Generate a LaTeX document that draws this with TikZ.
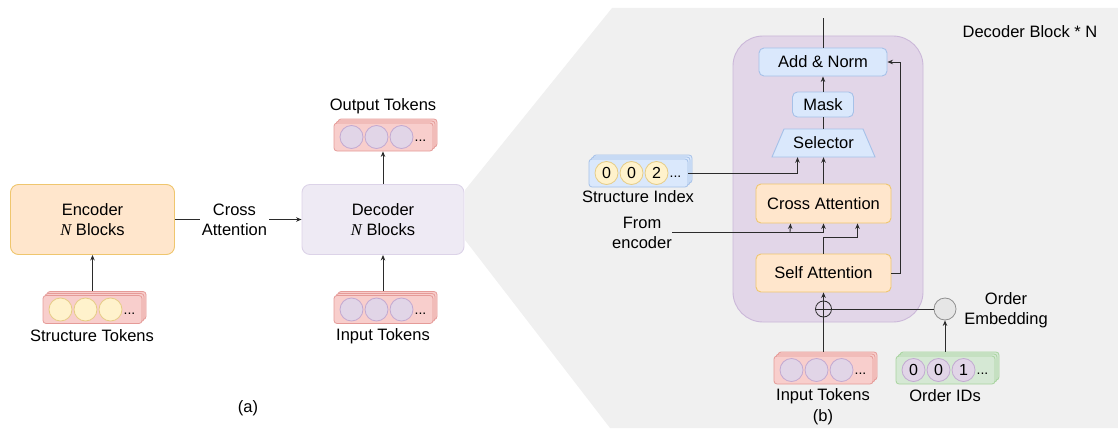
\documentclass[tikz,border=0pt]{standalone}
\usepackage{fontspec}
\setmainfont{Liberation Sans}
\newfontfamily\seriffam{Liberation Serif}
\usetikzlibrary{arrows.meta,calc}
\definecolor{bgG}{HTML}{F0F0F0}
\definecolor{linec}{HTML}{2B2B2B}
\definecolor{pinkF}{HTML}{F8CECC}
\definecolor{pinkD}{HTML}{E59B98}
\definecolor{purF}{HTML}{E1D5E7}
\definecolor{purD}{HTML}{C2A9D1}
\definecolor{yelF}{HTML}{FFF2CC}
\definecolor{yelD}{HTML}{E6CC85}
\definecolor{bluF}{HTML}{DAE8FC}
\definecolor{bluD}{HTML}{A6C1E8}
\definecolor{grnF}{HTML}{D5E8D4}
\definecolor{grnD}{HTML}{A8D49F}
\definecolor{orF}{HTML}{FFE6CC}
\definecolor{orD}{HTML}{EFC66E}
\definecolor{decF}{HTML}{EEEAF4}
\definecolor{decD}{HTML}{DCD3E8}
\definecolor{bigF}{HTML}{E2D6E8}
\definecolor{bigD}{HTML}{CBB8D9}
\definecolor{oeF}{HTML}{E6E6E6}
\definecolor{oeD}{HTML}{8F8F8F}
\newcommand\tokstack[7]{%
  \node[#3] (#1-3) at ($#2+(4,-4)$) {};
  \node[#3] (#1-2) at ($#2+(2,-2)$) {};
  \node[#3] (#1) at #2 {};
  \node[#4] (#1-c1) at ($#2+(-32,0)$) {#5};
  \node[#4] (#1-c2) at ($#2+(-7,0)$) {#6};
  \node[#4] (#1-c3) at ($#2+(18,0)$) {#7};
  \node[font=\fontsize{14}{16}\selectfont, inner sep=0pt] (#1-d) at ($#2+(37,4)$) {...};
}
\begin{document}
\begin{tikzpicture}[x=1pt,y=-1pt,
  font=\fontsize{16.5}{20}\selectfont,
  line/.style={draw=linec, line width=0.9pt},
  arr/.style={line, -{Stealth[length=5.5pt,width=4.5pt]}},
  tokbox/.style={rectangle, rounded corners=3pt, minimum width=99pt, minimum height=28pt, inner sep=0pt, line width=0.8pt},
  pinkstk/.style={tokbox, fill=pinkF, draw=pinkD},
  bluestk/.style={tokbox, fill=bluF, draw=bluD},
  greenstk/.style={tokbox, fill=grnF, draw=grnD},
  tokc/.style={circle, minimum size=23pt, inner sep=0pt, line width=0.8pt, font=\fontsize{16}{18}\selectfont},
  purc/.style={tokc, fill=purF, draw=purD},
  yelc/.style={tokc, fill=yelF, draw=yelD},
  blkbox/.style={rectangle, rounded corners=5pt, line width=0.9pt, inner sep=0pt, align=center},
  bluebox/.style={blkbox, fill=bluF, draw=bluD},
  orbox/.style={blkbox, fill=orF, draw=orD},
]
\useasboundingbox (0,0) rectangle (1118,428);
% background of (b)
\fill[bgG] (612,8) -- (1118,8) -- (1118,428) -- (610,428) -- (465,240) -- (465,190) -- cycle;

% ---------- (a) ----------
\node[blkbox, fill=orF, draw=orD, rounded corners=8pt, minimum width=164pt, minimum height=70pt] (enc) at (92.5,219.5) {Encoder\\{\seriffam\itshape N} Blocks};
\node[blkbox, fill=decF, draw=decD, rounded corners=8pt, minimum width=162pt, minimum height=70pt] (dec) at (383,219.5) {Decoder\\{\seriffam\itshape N} Blocks};
\draw[arr] (enc) -- node[pos=0.47, fill=white, align=center, inner sep=2pt] (ca-lab) {Cross\\Attention} (dec);

\tokstack{st}{(92.5,309.5)}{pinkstk}{yelc}{}{}{}
\tokstack{ita}{(383.5,309.5)}{pinkstk}{purc}{}{}{}
\tokstack{ot}{(383.5,137)}{pinkstk}{purc}{}{}{}
\node (stl) at (92,336) {Structure Tokens};
\node (ital) at (383,336) {Input Tokens};
\node (otl) at (383,106) {Output Tokens};
\draw[arr] (st.center |- st-3.north) -- (st.center |- enc.south);
\draw[arr] (dec.south |- ita-3.north) -- (dec.south);
\draw[arr] (dec.north) -- (dec.north |- ot.south);
\node (la) at (248,408) {(a)};

% ---------- (b) ----------
\node[rectangle, rounded corners=30pt, fill=bigF, draw=bigD, line width=0.9pt, minimum width=190pt, minimum height=286pt] (big) at (828,179) {};
\node (dbn) at (1030,32) {Decoder Block * N};

\node[bluebox, minimum width=128pt, minimum height=28pt] (an) at (823,62) {Add \& Norm};
\node[bluebox, minimum width=61pt, minimum height=25pt] (mask) at (823,104.5) {Mask};
\filldraw[fill=bluF, draw=bluD, line width=0.9pt] (772,157) -- (784,129) -- (863,129) -- (875,157) -- cycle;
\node[inner sep=0pt, minimum width=103pt, minimum height=28pt] (sel) at (823.5,143) {Selector};
\node[orbox, minimum width=135pt, minimum height=39pt] (ca) at (823.5,203.5) {Cross Attention};
\node[orbox, minimum width=135pt, minimum height=38pt] (sa) at (823.5,273) {Self Attention};

\coordinate (top) at (823,18);
\draw[line] (an.north) -- (an.north |- top);
\draw[arr] (mask.north) -- (an.south);
\draw[line] (sel.north) -- (sel.north -| mask.south) -- (mask.south);
\draw[arr] (ca.north) -- (sel.south);

\tokstack{si}{(638.5,173)}{bluestk}{yelc}{0}{0}{2}
\node (sil) at (638,197) {Structure Index};
\draw[arr] (si.east) -| ($(sel.south)+(-26,0)$);

\node[align=center] (fel) at (642,233) {From\\encoder};
\coordinate (fe) at (672,232);
\draw[arr] (fe) -| (ca.south);
\draw[arr] (fe -| 790,0) -- ($(ca.south)+(-33,0)$);
\draw[arr] (sa.north) -- ++(0,-16) -| ($(ca.south)+(34,0)$);
\draw[arr] (sa.east) -- ++(9,0) |- (an.east);

\node[circle, draw=linec, line width=0.8pt, minimum size=16pt, inner sep=0pt] (plus) at (823.5,309) {};
\draw[line] (plus.west) -- (plus.east);
\node[circle, fill=oeF, draw=oeD, line width=0.8pt, minimum size=22pt, inner sep=0pt] (oe) at (945,309) {};
\node[align=center] (oel) at (1006,310) {Order\\Embedding};
\draw[line] (plus.east) -- (oe.west);

\tokstack{itb}{(823.5,370)}{pinkstk}{purc}{}{}{}
\tokstack{oid}{(945.5,370)}{greenstk}{purc}{0}{0}{1}
\node (itbl) at (823,396) {Input Tokens};
\node (oidl) at (945,396) {Order IDs};
\node (lb) at (823,417) {(b)};
\draw[arr] (itb.center |- itb-3.north) -- (sa.south);
\draw[arr] (oe.south |- oid-3.north) -- (oe.south);
\end{tikzpicture}
\end{document}
